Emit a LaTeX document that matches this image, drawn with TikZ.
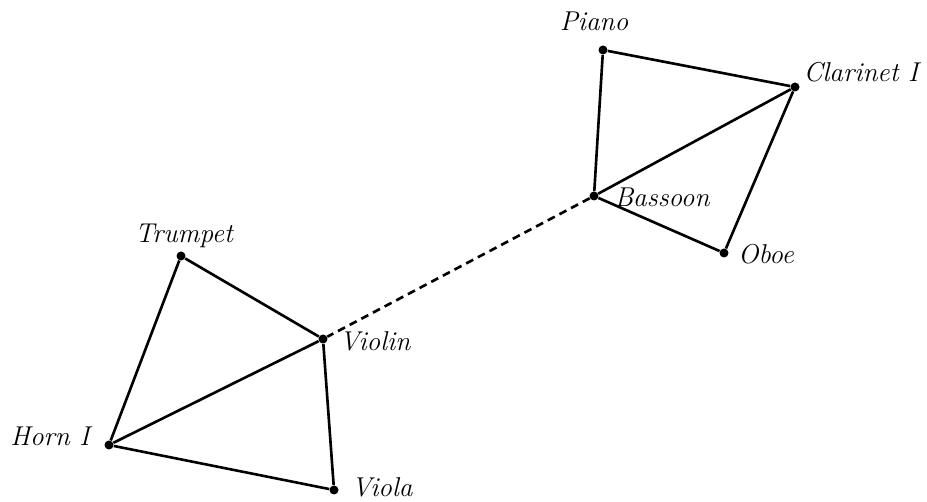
\documentclass[tikz,border=0pt]{standalone}
\usepackage{tikz}
\usetikzlibrary{positioning}

\tikzset{
  dot/.style={circle, fill, inner sep=0pt, minimum size=0.18cm},
  lbl/.style={font=\fontsize{15.5}{18}\selectfont\itshape, inner sep=1pt},
  edge/.style={line width=1.5pt},
}

\begin{document}
\begin{tikzpicture}[x=0.02cm, y=-0.02cm]
  \useasboundingbox (0,0) rectangle (927,502);
  % instrument dots
  \foreach \nm/\pos in {piano/{(603,50)}, clarinet/{(795,87)}, bassoon/{(594,196)},
                        oboe/{(724,253)}, trumpet/{(181,256)}, violin/{(323,339)},
                        horn/{(109,445)}, viola/{(334,490)}}
    \node[dot] (\nm) at \pos {};
  % labels
  \node[lbl] (piano-l)    at (594,21)  {Piano};
  \node[lbl] (clarinet-l) at (861,72)  {Clarinet I};
  \node[lbl] (bassoon-l)  at (662,197) {Bassoon};
  \node[lbl] (oboe-l)     at (766,254) {Oboe};
  \node[lbl] (trumpet-l)  at (184,236) {Trumpet};
  \node[lbl] (violin-l)   at (375,341) {Violin};
  \node[lbl] (horn-l)     at (50,436)  {Horn I};
  \node[lbl] (viola-l)    at (382,487) {Viola};
  % upper group
  \draw[edge] (piano) -- (clarinet);
  \draw[edge] (piano) -- (bassoon);
  \draw[edge] (bassoon) -- (clarinet);
  \draw[edge] (clarinet) -- (oboe);
  \draw[edge] (bassoon) -- (oboe);
  % lower group
  \draw[edge] (trumpet) -- (violin);
  \draw[edge] (trumpet) -- (horn);
  \draw[edge] (horn) -- (violin);
  \draw[edge] (horn) -- (viola);
  \draw[edge] (violin) -- (viola);
  % link between groups
  \draw[edge, dash pattern=on 4.5pt off 3pt] (bassoon) -- (violin);
\end{tikzpicture}
\end{document}
